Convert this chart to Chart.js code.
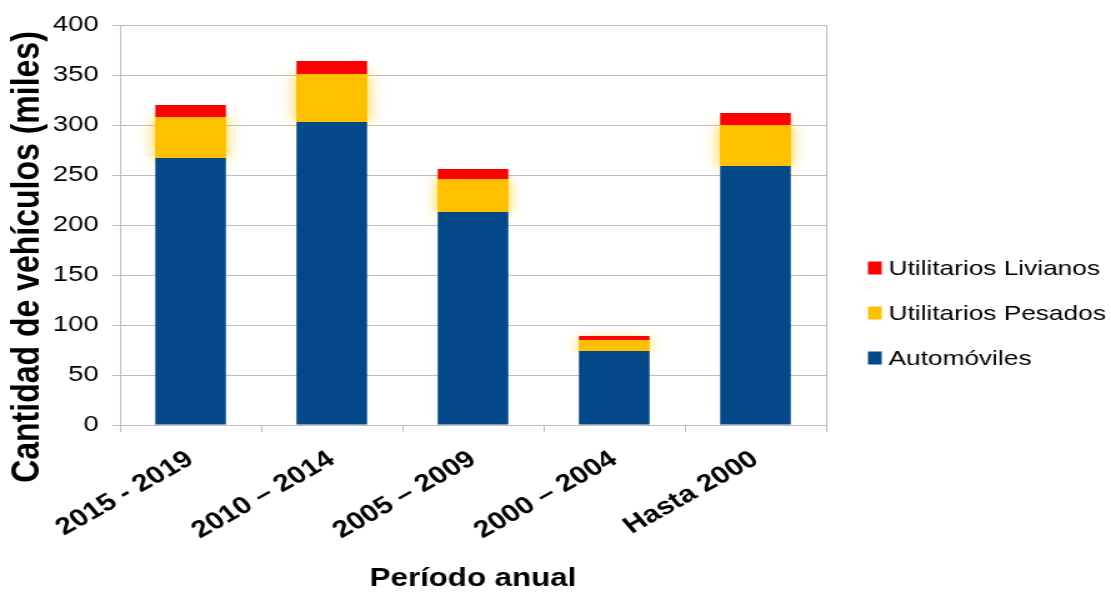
<!DOCTYPE html>
<html>
<head>
<meta charset="utf-8">
<script src="https://cdn.jsdelivr.net/npm/chart.js@4.4.1/dist/chart.umd.min.js"></script>
<style>
  html, body { margin: 0; padding: 0; background: #fff; overflow: hidden; }
  /* the chart is laid out narrow and widened, so text comes out broad */
  #wrap { width: 889px; height: 594px; transform: scaleX(1.2497); transform-origin: 0 0; }
</style>
</head>
<body>
<div id="wrap"><canvas id="barChart"></canvas></div>
<script>
var periodos = ['2015 - 2019', '2010 \u2013 2014', '2005 \u2013 2009', '2000 \u2013 2004', 'Hasta 2000'];
var automoviles = [267, 303, 213, 74, 259];
var pesados = [41, 48, 33, 11, 41];
var livianos = [12, 13, 10, 4, 12];
var yTicks = [0, 50, 100, 150, 200, 250, 300, 350, 400];

var FONT = "'Liberation Sans', Arial, sans-serif";
var GRID = '#bdbdbd';

// glow behind the yellow segments, right edge of the plot, axis title and legend
var extras = {
    id: 'extras',
    beforeDatasetsDraw: function (chart) {
        var ctx = chart.ctx;
        var area = chart.chartArea;
        ctx.save();
        ctx.strokeStyle = GRID;
        ctx.lineWidth = 1;
        ctx.beginPath();
        ctx.moveTo(Math.round(area.right) + 0.5, area.top);
        ctx.lineTo(Math.round(area.right) + 0.5, area.bottom);
        ctx.stroke();

        chart.getDatasetMeta(1).data.forEach(function (el) {
            ctx.shadowColor = 'rgba(255, 200, 0, 0.85)';
            ctx.shadowBlur = 12;
            ctx.fillStyle = '#FFC000';
            ctx.fillRect(el.x - el.width / 2, el.y, el.width, el.base - el.y);
        });
        ctx.restore();
    },
    afterDraw: function (chart) {
        var ctx = chart.ctx;
        ctx.save();
        ctx.fillStyle = '#000';

        ctx.translate(22, 257);
        ctx.rotate(-Math.PI / 2);
        ctx.font = 'bold 32px ' + FONT;
        ctx.textAlign = 'center';
        ctx.textBaseline = 'middle';
        ctx.fillText('Cantidad de veh\u00edculos (miles)', 0, 0);
        ctx.setTransform(1, 0, 0, 1, 0, 0);

        var items = chart.data.datasets.slice().reverse();
        ctx.font = '21px ' + FONT;
        ctx.textAlign = 'left';
        items.forEach(function (ds, i) {
            var cy = 268 + i * 45;
            ctx.fillStyle = ds.backgroundColor;
            ctx.fillRect(694.5, cy - 6.5, 11, 13);
            ctx.fillStyle = '#000';
            ctx.fillText(ds.label, 711, cy + 1);
        });
        ctx.restore();
    }
};

var ctx = document.getElementById('barChart').getContext('2d');
var myChart = new Chart(ctx, {
    type: 'bar',
    data: {
        labels: periodos,
        datasets: [{
            label: 'Autom\u00f3viles',
            data: automoviles,
            backgroundColor: '#03498A'
        }, {
            label: 'Utilitarios Pesados',
            data: pesados,
            backgroundColor: '#FFC000'
        }, {
            label: 'Utilitarios Livianos',
            data: livianos,
            backgroundColor: '#FF0000'
        }]
    },
    options: {
        responsive: true,
        maintainAspectRatio: false,
        animation: false,
        categoryPercentage: 1,
        barPercentage: 0.5,
        layout: { padding: { top: 25, right: 228, bottom: 0, left: 0 } },
        plugins: {
            legend: { display: false },
            tooltip: { enabled: false }
        },
        scales: {
            x: {
                stacked: true,
                grid: { drawOnChartArea: false, tickLength: 7, color: GRID },
                border: { color: GRID },
                ticks: {
                    color: '#000',
                    font: { family: FONT, size: 24, weight: 'bold' },
                    minRotation: 35,
                    maxRotation: 35,
                    padding: 13
                },
                title: {
                    display: true,
                    text: 'Per\u00edodo anual',
                    color: '#000',
                    font: { family: FONT, size: 25, weight: 'bold' },
                    padding: { top: 0, bottom: 0 }
                },
                afterFit: function (scale) { scale.height = 169; }
            },
            y: {
                stacked: true,
                min: 0,
                max: 400,
                grid: { color: GRID, tickLength: 6 },
                border: { color: GRID },
                afterBuildTicks: function (scale) {
                    scale.ticks = yTicks.map(function (v) { return { value: v }; });
                },
                ticks: {
                    color: '#000',
                    font: { family: FONT, size: 22 },
                    padding: 11
                },
                afterFit: function (scale) { scale.width = 96; }
            }
        }
    },
    plugins: [extras]
});
</script>
</body>
</html>
